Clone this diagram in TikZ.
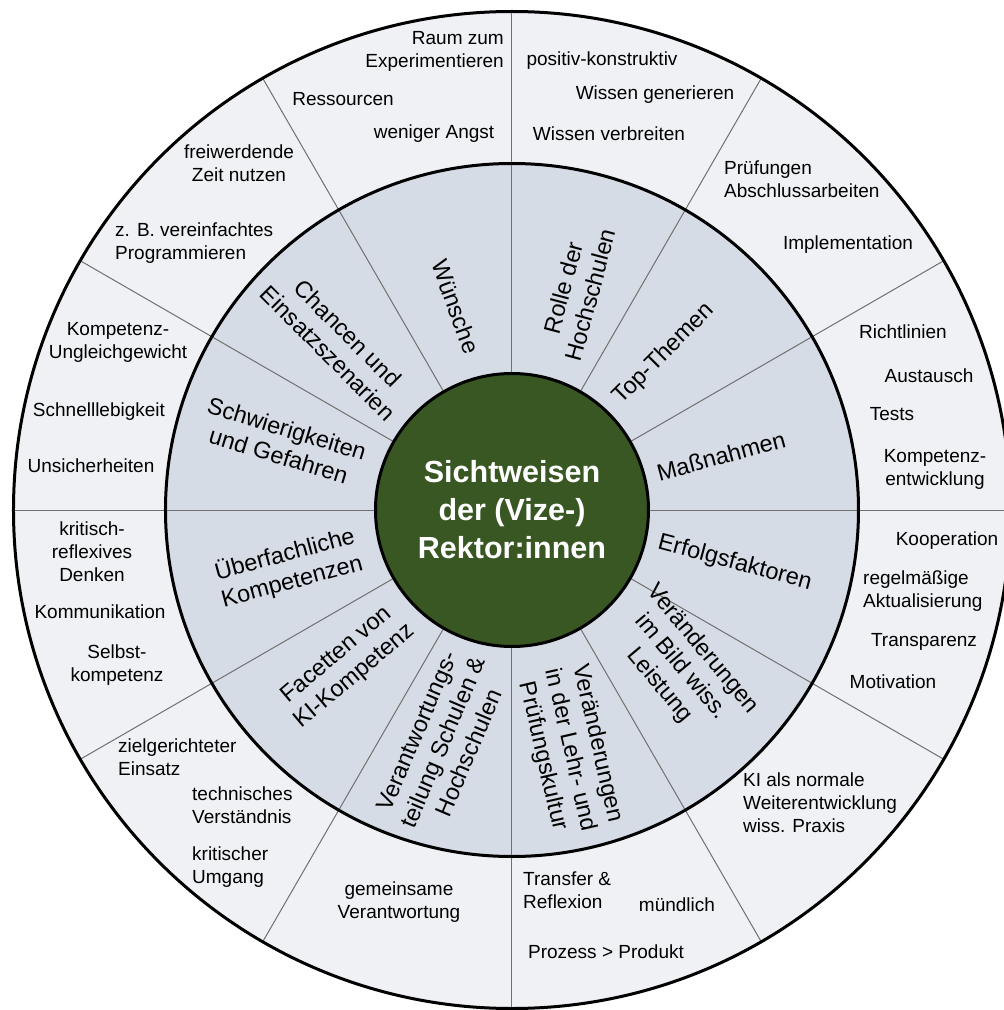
\documentclass[tikz,border=0pt]{standalone}
\usepackage{fontspec}
\setmainfont{Liberation Sans}
\definecolor{ringgrey}{HTML}{D6DCE5}
\definecolor{outerfill}{HTML}{EFF1F5}
\definecolor{hubgreen}{HTML}{385723}
\definecolor{divgrey}{HTML}{707070}

\begin{document}
\begin{tikzpicture}[x=1pt, y=1pt,
  hub/.style={circle, draw=black, line width=3pt, fill=hubgreen, text=white,
              minimum size=273pt, align=center,
              font=\bfseries\fontsize{30.5}{38}\selectfont},
  seg/.style={align=center, inner sep=0pt, font=\fontsize{23.5}{28}\selectfont},
  leaf/.style={align=center, inner sep=0pt, font=\fontsize{19}{23}\selectfont},
  leafl/.style={leaf, align=left, anchor=west},
  leafr/.style={leaf, align=right, anchor=east},
  rim/.style={draw=black, line width=3pt},
  spoke/.style={draw=divgrey, line width=1pt}]

  \useasboundingbox (-512,-500) rectangle (492,510);

  % rings
  \fill[outerfill] (0,0) circle (498.5);
  \fill[ringgrey]  (0,0) circle (346.5);

  % spokes
  \draw[spoke] (0,0) -- (0:498);
  \draw[spoke] (0,0) -- (30:498);
  \draw[spoke] (0,0) -- (60:498);
  \draw[spoke] (0,0) -- (90:498);
  \draw[spoke] (0,0) -- (120:498);
  \draw[spoke] (0,0) -- (150:498);
  \draw[spoke] (0,0) -- (180:498);
  \draw[spoke] (0,0) -- (210:498);
  \draw[spoke] (0,0) -- (240:498);
  \draw[spoke] (0,0) -- (270:498);
  \draw[spoke] (0,0) -- (300:498);
  \draw[spoke] (0,0) -- (330:498);

  \draw[rim] (0,0) circle (498.5);
  \draw[rim] (0,0) circle (346.5);

  \node[hub] (hub) at (0,0) {Sichtweisen\\der (Vize-)\\Rektor:innen};

  % middle ring
  \node[seg, rotate=75]  (rolle)     at (73.5:228)   {Rolle der\\Hochschulen};
  \node[seg, rotate=45]  (top)       at (45.7:218)   {Top-Themen};
  \node[seg, rotate=15]  (massn)     at (14.5:216)   {Maßnahmen};
  \node[seg, rotate=-15] (erfolg)    at (-13.4:229)  {Erfolgsfaktoren};
  \node[seg, rotate=-50] (bild)      at (-43:231)    {Veränderungen\\im Bild wiss.\\Leistung};
  \node[seg, rotate=-77] (lehr)      at (-76.4:247)  {Veränderungen\\in der Lehr- und\\Prüfungskultur};
  \node[seg, rotate=67]  (verantw)   at (-106.6:242) {Verantwortungs-\\teilung Schulen \&\\Hochschulen};
  \node[seg, rotate=40]  (facetten)  at (-136.8:228) {Facetten von\\KI-Kompetenz};
  \node[seg, rotate=15]  (ueberf)    at (-165.5:231) {Überfachliche\\Kompetenzen};
  \node[seg, rotate=-17] (schwierig) at (163.5:239)  {Schwierigkeiten\\und Gefahren};
  \node[seg, rotate=-45] (chancen)   at (136.2:241)  {Chancen und\\Einsatzszenarien};
  \node[seg, rotate=-70] (wuensche)  at (105.4:211)  {Wünsche};

  % outer ring
  \node[leafr] (raum)     at (-8,459)    {Raum zum\\Experimentieren};
  \node[leaf]  (ressour)  at (-169,411)  {Ressourcen};
  \node[leaf]  (angst)    at (-78,376)   {weniger Angst};

  \node[leaf]  (positiv)  at (90,449)    {positiv-konstruktiv};
  \node[leaf]  (generier) at (143,415)   {Wissen generieren};
  \node[leaf]  (verbreit) at (97,376)    {Wissen verbreiten};

  \node[leafl] (pruef)    at (212,331)   {Prüfungen\\Abschlussarbeiten};
  \node[leaf]  (implem)   at (336,265)   {Implementation};

  \node[leaf]  (richtl)   at (391,178)   {Richtlinien};
  \node[leaf]  (austausch) at (417,134)  {Austausch};
  \node[leaf]  (tests)    at (380,96)    {Tests};
  \node[leaf]  (kompentw) at (423,41)    {Kompetenz-\\entwicklung};

  \node[leaf]  (koop)     at (435,-31)   {Kooperation};
  \node[leafl] (aktual)   at (351,-81)   {regelmäßige\\Aktualisierung};
  \node[leaf]  (transp)   at (412,-132)  {Transparenz};
  \node[leaf]  (motiv)    at (381,-172)  {Motivation};

  \node[leafl] (normal)   at (231,-293)  {KI als normale\\Weiterentwicklung\\wiss. Praxis};

  \node[leafl] (transfer) at (11,-380)   {Transfer \&\\Reflexion};
  \node[leaf]  (muendl)   at (165,-395)  {mündlich};
  \node[leaf]  (prozess)  at (94,-442)   {Prozess > Produkt};

  \node[leaf]  (gemeins)  at (-113,-392) {gemeinsame\\Verantwortung};

  \node[leafl] (ziel)     at (-394,-247) {zielgerichteter\\Einsatz};
  \node[leafl] (technisch) at (-320,-295) {technisches\\Verständnis};
  \node[leafl] (umgang)   at (-320,-357) {kritischer\\Umgang};

  \node[leaf]  (reflex)   at (-420,-42)  {kritisch-\\reflexives\\Denken};
  \node[leaf]  (kommun)   at (-412,-102) {Kommunikation};
  \node[leaf]  (selbst)   at (-395,-155) {Selbst-\\kompetenz};

  \node[leaf]  (ungleich) at (-394,168)  {Kompetenz-\\Ungleichgewicht};
  \node[leaf]  (schnell)  at (-413,98)   {Schnelllebigkeit};
  \node[leaf]  (unsicher) at (-421,44)   {Unsicherheiten};

  \node[leaf]  (freiw)    at (-273,347)  {freiwerdende\\Zeit nutzen};
  \node[leafl] (program)  at (-397,267)  {z. B. vereinfachtes\\Programmieren};

\end{tikzpicture}
\end{document}
